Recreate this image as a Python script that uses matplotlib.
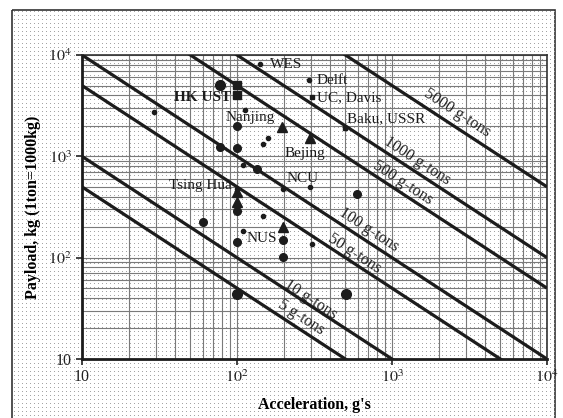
import numpy as np
import matplotlib
matplotlib.use('Agg')
import matplotlib.pyplot as plt
from matplotlib.patches import Rectangle
from matplotlib.ticker import FixedLocator, FuncFormatter, LogLocator, NullFormatter

plt.rcParams['font.family'] = ['Liberation Serif', 'DejaVu Serif']
plt.rcParams['mathtext.fontset'] = 'stix'

# constant capacity lines (g-tons)
gton_vals = [5, 10, 50, 100, 500, 1000, 5000]
gton_labels = ['5 g-tons', '10 g-tons', '50 g-tons', '100 g-tons',
               '500 g-tons', '1000 g-tons', '5000 g-tons']
# acceleration at which each line label sits, and its distance above the line (px)
gton_label_acc = [237, 287, 536, 650, 1094, 1346, 2366]
gton_label_off = [11, 5, 8.5, 11, 9, 9.5, 12.5]

# centrifuges: acceleration (g) and payload (kg)
big_acc = [78, 100, 505]
big_load = [5050, 44, 44]
mid_acc = [100, 78, 100, 134, 100, 100, 197, 197, 592, 60]
mid_load = [1980, 1236, 1220, 755, 287, 142, 150, 102, 427, 224]
dot_acc = [140, 293, 29, 113, 159, 148, 110, 197, 295, 148, 110, 303, 100]
dot_load = [8150, 5660, 2750, 2850, 1530, 1316, 830, 480, 497, 255, 185, 135, 480]
sq_acc = [100, 100]
sq_load = [5100, 4000]
smsq_acc = [303, 498]
smsq_load = [3810, 1910]
tri_acc = [194, 295, 100, 100, 197]
tri_load = [1950, 1530, 440, 355, 203]

# facility names: text, acceleration, payload, alignment, weight
names = ['WES', 'Delft', 'UC, Davis', 'Baku, USSR', 'HK UST', 'Nanjing',
         'Bejing', 'NCU', 'Tsing Hua', 'NUS']
name_acc = [163, 327, 327, 513, 92, 84, 204, 209, 92, 116]
name_load = [8150, 5660, 3810, 2377, 3840, 2430, 1073, 605, 516, 154]
name_ha = ['left', 'left', 'left', 'left', 'right', 'left', 'left', 'left', 'right', 'left']
name_wt = ['normal'] * 4 + ['bold'] + ['normal'] * 5

W, H = 563, 418
fig = plt.figure(figsize=(W / 100, H / 100), dpi=100)

# dotted chart-area pattern inside the outer frame
bg = fig.add_axes([0, 0, 1, 1], zorder=-1)
bg.set_xlim(0, W)
bg.set_ylim(H, 0)
bg.axis('off')
gx, gy = np.meshgrid(np.arange(14, 555, 4), np.arange(12, 418, 4))
bg.plot(gx.ravel(), gy.ravel(), ',', color='#a4a4a4')
bg.add_patch(Rectangle((12, 10), 543, 410, fill=False, ec='#333333', lw=1.2))

ax = fig.add_axes([82 / W, 1 - 359 / H, (547 - 82) / W, (359 - 55) / H])
ax.set_facecolor('none')
ax.set_xscale('log')
ax.set_yscale('log')
ax.set_xlim(10, 1e4)
ax.set_ylim(10, 1e4)

ax.grid(which='both', color='#7a7a7a', lw=0.8)
ax.set_axisbelow(True)

acc = np.logspace(1, 4, 60)
for gt, lab, la, off in zip(gton_vals, gton_labels, gton_label_acc, gton_label_off):
    ax.plot(acc, gt * 1000 / acc, color='#1c1c1c', lw=2.3, solid_capstyle='butt', zorder=3)
    ang = np.deg2rad(33)
    ax.annotate(lab, xy=(la, gt * 1000 / la),
                xytext=(off * np.sin(ang) * 0.72, off * np.cos(ang) * 0.72),
                textcoords='offset points', rotation=-33, rotation_mode='anchor',
                ha='center', va='center', fontsize=11.5, color='#222222', zorder=4)

mk = dict(color='#1c1c1c', linestyle='none', zorder=5)
ax.plot(big_acc, big_load, 'o', ms=7, **mk)
ax.plot(mid_acc, mid_load, 'o', ms=5.5, **mk)
ax.plot(dot_acc, dot_load, 'o', ms=3, **mk)
ax.plot(sq_acc, sq_load, 's', ms=6, **mk)
ax.plot(smsq_acc, smsq_load, 's', ms=3.5, **mk)
ax.plot(tri_acc, tri_load, '^', ms=7, **mk)

for t, a, p, ha, wt in zip(names, name_acc, name_load, name_ha, name_wt):
    ax.text(a, p, t, ha=ha, va='center', fontsize=11, fontweight=wt,
            color='#1c1c1c', zorder=6)

ax.xaxis.set_major_locator(FixedLocator([10, 100, 1000, 10000]))
ax.yaxis.set_major_locator(FixedLocator([10, 100, 1000, 10000]))
ax.xaxis.set_minor_locator(LogLocator(base=10, subs=np.arange(2, 10)))
ax.yaxis.set_minor_locator(LogLocator(base=10, subs=np.arange(2, 10)))
ax.xaxis.set_minor_formatter(NullFormatter())
ax.yaxis.set_minor_formatter(NullFormatter())
fmt = FuncFormatter(lambda v, pos: '10' if v == 10 else r'$10^{%d}$' % round(np.log10(v)))
ax.xaxis.set_major_formatter(fmt)
ax.yaxis.set_major_formatter(fmt)
ax.tick_params(which='major', direction='out', length=4, width=1.2, labelsize=11.5,
               colors='#222222')
ax.tick_params(which='minor', length=0)

for s in ['left', 'bottom']:
    ax.spines[s].set_linewidth(2)
    ax.spines[s].set_color('#1c1c1c')
for s in ['top', 'right']:
    ax.spines[s].set_linewidth(1.2)
    ax.spines[s].set_color('#333333')

ax.set_xlabel("Acceleration, g's", fontsize=11.5, fontweight='bold', labelpad=8)
ax.set_ylabel('Payload, kg (1ton=1000kg)', fontsize=11.5, fontweight='bold', labelpad=5)

fig.savefig('out.png', dpi=100)
